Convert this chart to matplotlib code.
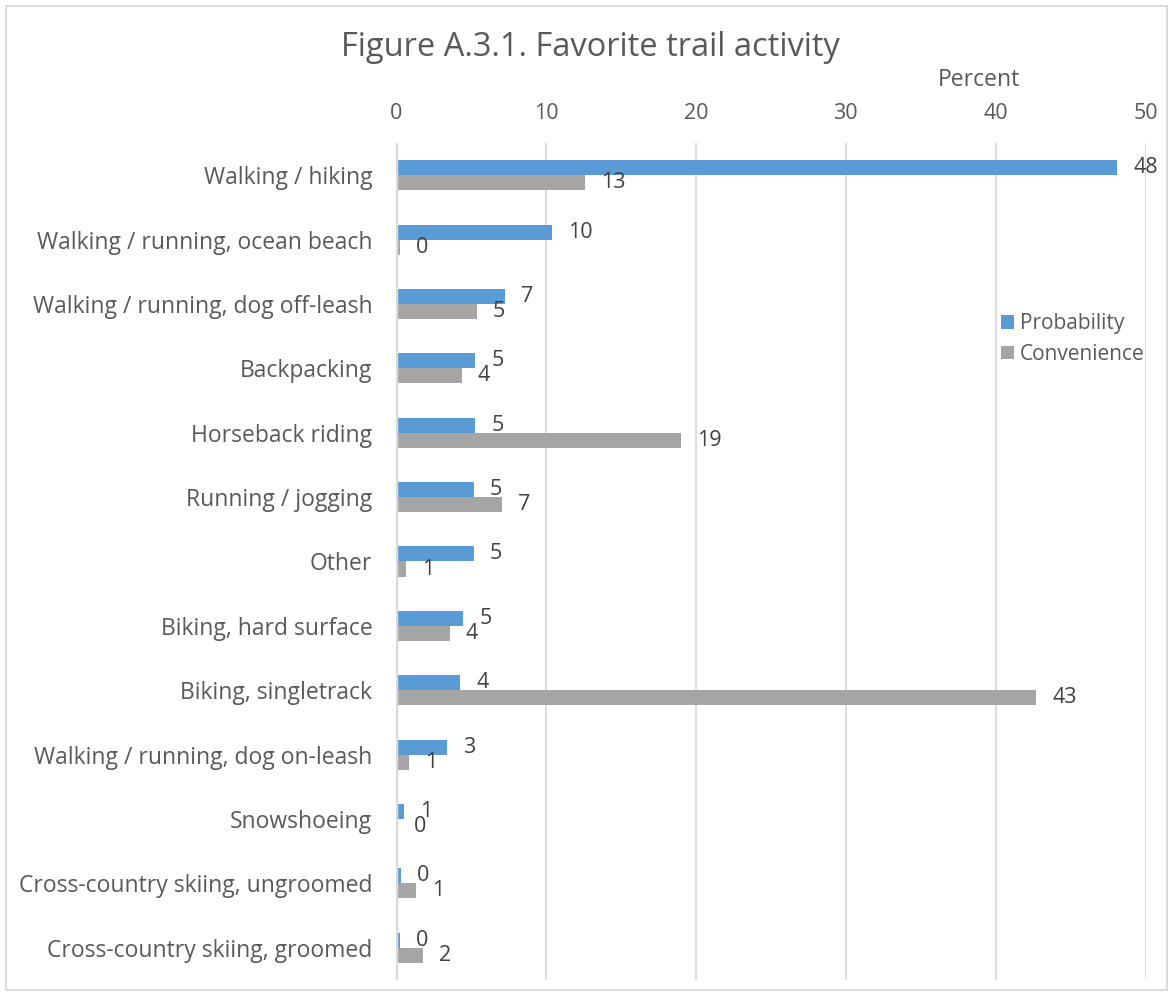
import matplotlib.pyplot as plt
from matplotlib.patches import Rectangle
import numpy as np

# data (percent)
categories = [
    'Walking / hiking',
    'Walking / running, ocean beach',
    'Walking / running, dog off-leash',
    'Backpacking',
    'Horseback riding',
    'Running / jogging',
    'Other',
    'Biking, hard surface',
    'Biking, singletrack',
    'Walking / running, dog on-leash',
    'Snowshoeing',
    'Cross-country skiing, ungroomed',
    'Cross-country skiing, groomed',
]
probability = [48.1, 10.4, 7.3, 5.3, 5.3, 5.2, 5.2, 4.5, 4.3, 3.4, 0.55, 0.35, 0.25]
convenience = [12.6, 0.25, 5.4, 4.4, 19.0, 7.1, 0.7, 3.6, 42.7, 0.85, 0.15, 1.35, 1.8]
x_ticks = [0, 10, 20, 30, 40, 50]

BLUE = '#5B9BD5'
GRAY = '#A5A5A5'
TEXT = '#595959'
GRID = '#D9D9D9'

plt.rcParams['font.family'] = ['Open Sans', 'DejaVu Sans']

fig = plt.figure(figsize=(11.73, 9.96), dpi=100)
ax = fig.add_axes([396 / 1173, 1 - 980 / 996, (1145.7 - 396) / 1173, (980 - 143) / 996])

y = np.arange(len(categories))
h = 0.233
b1 = ax.barh(y - h / 2, probability, height=h, color=BLUE, label='Probability')
b2 = ax.barh(y + h / 2, convenience, height=h, color=GRAY, label='Convenience')

# data labels
for bars, vals in ((b1, probability), (b2, convenience)):
    for bar, v in zip(bars, vals):
        ax.annotate(f'{int(v + 0.5)}', (bar.get_width(), bar.get_y() + bar.get_height() / 2),
                    xytext=(11.5, 0), textcoords='offset points', va='center', ha='left',
                    fontsize=15.5, color='#404040')

ax.set_xlim(0, 50)
ax.set_ylim(len(categories) - 0.5, -0.5)
ax.set_xticks(x_ticks)
ax.xaxis.tick_top()
ax.tick_params(axis='x', length=0, pad=14, labelsize=15.5, labelcolor=TEXT)
ax.set_yticks(y)
ax.set_yticklabels(categories)
ax.tick_params(axis='y', length=0, pad=17, labelsize=16.5, labelcolor=TEXT)
ax.grid(axis='x', color=GRID, linewidth=1.3)
ax.set_axisbelow(True)
for s in ax.spines.values():
    s.set_visible(False)
ax.axvline(0, color=GRID, linewidth=2.5, zorder=1)

fig.text(590 / 1173, 1 - 48 / 996, 'Figure A.3.1. Favorite trail activity',
         ha='center', va='center', fontsize=23.5, color=TEXT)
fig.text(979 / 1173, 1 - 80 / 996, 'Percent', ha='center', va='center', fontsize=16.5, color=TEXT)

fig.legend(handles=[b1, b2], loc='upper left', bbox_to_anchor=(993 / 1173, 1 - 305 / 996),
           frameon=False, fontsize=15, labelcolor=TEXT, handlelength=0.6, handleheight=0.6,
           handletextpad=0.3, labelspacing=0.45, borderaxespad=0)

# light border round the whole chart
fig.patches.append(Rectangle((6 / 1173, 6 / 996), 1 - 12 / 1173, 1 - 12 / 996,
                             transform=fig.transFigure, fill=False, edgecolor=GRID, linewidth=1.3))

plt.savefig('out.png')
